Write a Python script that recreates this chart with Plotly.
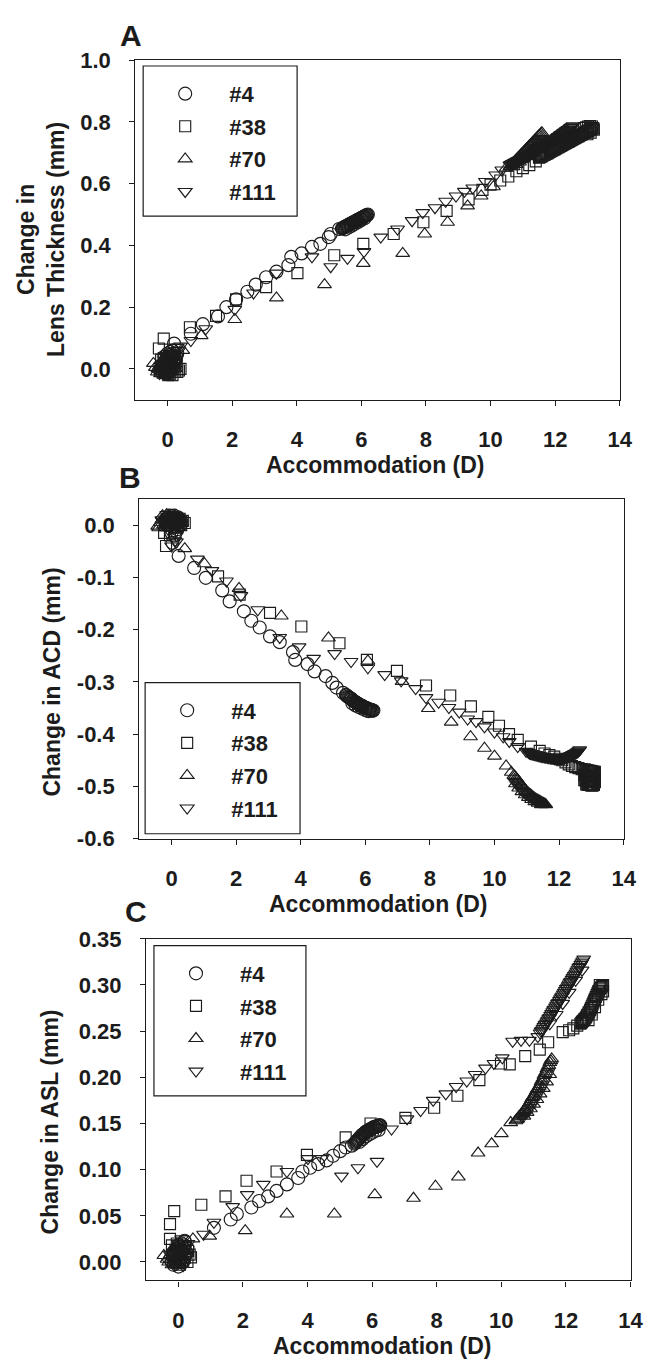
import plotly.graph_objects as go

W, H = 669, 1372

series_names = ["#4", "#38", "#70", "#111"]
series_symbols = ["circle-open", "square-open", "triangle-up-open", "triangle-down-open"]
series_sizes = [13, 11, 12, 12]

x_tick_vals = [0, 2, 4, 6, 8, 10, 12, 14]
x_tick_text = ["0", "2", "4", "6", "8", "10", "12", "14"]

# ================= Panel A: Change in Lens Thickness (mm) =================
a4_x = [-0.2, -0.15, -0.1, -0.05, 0.0, 0.05, 0.1, 0.15, 0.2, 0.25, -0.1, 0.0, 0.1, 0.2, 0.05, -0.05, 0.15, 0.3,
        -0.12, -0.08, -0.02, 0.03, 0.07, 0.12, 0.17, 0.22, -0.18, 0.27, 0.08, -0.03,
        0.2, 0.72, 1.09, 1.56, 1.82, 2.12, 2.47, 2.73, 3.05, 3.37, 3.74, 3.83, 4.15, 4.47, 4.73, 4.99, 5.05, 5.31,
        5.400, 5.425, 5.450, 5.475, 5.500, 5.525, 5.550, 5.575, 5.600, 5.625,
        5.650, 5.675, 5.700, 5.725, 5.750, 5.775, 5.800, 5.825, 5.850, 5.875,
        5.900, 5.925, 5.950, 5.975, 6.000, 6.025, 6.050, 6.075, 6.100, 6.125,
        6.150, 6.175, 6.200,
        5.5, 5.6, 5.7, 5.8, 5.9, 6.0, 6.1]
a4_y = [0.0, 0.01, -0.01, 0.02, 0.0, 0.03, 0.01, 0.04, 0.05, 0.03, 0.04, 0.05, -0.005, 0.02, -0.01, 0.03, 0.06, 0.05,
        0.015, 0.025, 0.035, 0.045, 0.015, 0.02, 0.025, 0.035, 0.005, 0.04, 0.055, -0.015,
        0.082, 0.114, 0.145, 0.17, 0.2, 0.225, 0.25, 0.273, 0.297, 0.315, 0.336, 0.363, 0.374, 0.395, 0.405,
        0.427, 0.437, 0.453,
        0.455, 0.456, 0.458, 0.459, 0.461, 0.462, 0.463, 0.465, 0.466, 0.468,
        0.469, 0.470, 0.472, 0.473, 0.475, 0.476, 0.477, 0.479, 0.480, 0.482,
        0.483, 0.484, 0.486, 0.487, 0.489, 0.490, 0.491, 0.493, 0.494, 0.496,
        0.497, 0.498, 0.500,
        0.452, 0.458, 0.464, 0.47, 0.476, 0.482, 0.488]

a38_x = [-0.27, -0.12, 0.4, 0.3, 0.2, -0.2, 0.1, 0.0, -0.1, 0.05, 0.15, -0.05, 0.25, 0.0, 0.1,
         -0.25, -0.18, -0.08, -0.02, 0.08, 0.18, 0.28, 0.35, 0.12, -0.12, 0.02, 0.22,
         0.69, 1.5, 2.12, 3.05, 4.02, 5.16, 6.06, 7.0, 7.92, 8.64, 9.32, 9.75, 10.0, 10.3, 10.55, 10.8, 11.0,
         11.2, 11.4,
         11.50, 11.53, 11.56, 11.59, 11.62, 11.65, 11.68, 11.71, 11.74, 11.77,
         11.80, 11.83, 11.86, 11.89, 11.92, 11.95, 11.98, 12.01, 12.04, 12.07,
         12.10, 12.13, 12.16, 12.19, 12.22, 12.25, 12.28, 12.31, 12.34, 12.37,
         12.40, 12.43, 12.46, 12.49, 12.52, 12.55, 12.58, 12.61, 12.64, 12.67,
         12.70, 12.73, 12.76, 12.79, 12.82, 12.85, 12.88, 12.91, 12.94, 12.97,
         13.00, 13.03, 13.06, 13.09, 13.12, 13.15, 13.18,
         12.9, 12.96, 13.02, 13.08, 13.14, 13.2, 13.0, 13.1]
a38_y = [0.066, 0.098, 0.0, -0.01, 0.01, 0.03, 0.0, 0.02, -0.01, 0.04, -0.02, 0.0, 0.02, -0.015, 0.03,
         0.0, 0.01, 0.02, 0.005, -0.015, 0.0, 0.01, -0.005, 0.025, 0.035, -0.02, -0.01,
         0.135, 0.172, 0.225, 0.265, 0.31, 0.368, 0.405, 0.437, 0.475, 0.512, 0.549, 0.58, 0.597, 0.61, 0.623,
         0.64, 0.65, 0.66, 0.672,
         0.684, 0.686, 0.687, 0.689, 0.691, 0.693, 0.694, 0.696, 0.698, 0.699,
         0.701, 0.703, 0.705, 0.706, 0.708, 0.710, 0.711, 0.713, 0.715, 0.717,
         0.718, 0.720, 0.722, 0.723, 0.725, 0.727, 0.729, 0.730, 0.732, 0.734,
         0.735, 0.737, 0.739, 0.741, 0.742, 0.744, 0.746, 0.747, 0.749, 0.751,
         0.753, 0.754, 0.756, 0.758, 0.759, 0.761, 0.763, 0.765, 0.766, 0.768,
         0.770, 0.771, 0.773, 0.775, 0.777, 0.778, 0.780,
         0.78, 0.782, 0.785, 0.786, 0.785, 0.775, 0.76, 0.765]

a70_x = [-0.44, -0.3, -0.2, -0.1, 0.0, 0.1, 0.05, -0.15, 0.2, 0.15, -0.05, 0.0,
         -0.38, -0.32, -0.25, -0.18, -0.12, -0.06, 0.02, 0.08, 0.12, -0.22, -0.08, 0.25,
         0.47, 1.04, 2.08, 3.37, 4.86, 6.06, 7.28, 7.96, 8.67, 9.29, 9.71, 10.09, 10.48,
         10.60, 10.63, 10.66, 10.69, 10.72, 10.75, 10.78, 10.81, 10.84, 10.87,
         10.90, 10.93, 10.96, 10.99, 11.02, 11.05, 11.08, 11.11, 11.14, 11.17,
         11.20, 11.23, 11.26, 11.29, 11.32, 11.35, 11.38, 11.41, 11.44, 11.47,
         11.50, 11.53, 11.56, 11.59,
         10.7, 10.8, 10.9, 11.0, 11.1, 11.2, 11.3, 11.4, 11.5]
a70_y = [0.018, 0.0, -0.01, 0.01, 0.03, 0.0, 0.05, 0.02, 0.01, 0.04, -0.015, 0.0,
         0.005, -0.01, 0.01, 0.0, -0.02, 0.02, 0.015, 0.025, -0.01, -0.015, 0.035, 0.0,
         0.06, 0.108, 0.16, 0.23, 0.273, 0.342, 0.374, 0.437, 0.475, 0.528, 0.56, 0.59, 0.65,
         0.655, 0.658, 0.662, 0.665, 0.668, 0.672, 0.675, 0.678, 0.682, 0.685,
         0.688, 0.692, 0.695, 0.698, 0.702, 0.705, 0.708, 0.712, 0.715, 0.718,
         0.722, 0.725, 0.728, 0.732, 0.735, 0.738, 0.742, 0.745, 0.748, 0.752,
         0.755, 0.758, 0.762, 0.765,
         0.655, 0.662, 0.67, 0.68, 0.69, 0.7, 0.71, 0.72, 0.73]

a111_x = [-0.2, -0.1, 0.0, 0.1, 0.2, 0.3, 0.05, -0.05, 0.15, 0.25, 0.0, -0.15,
          -0.25, -0.18, -0.12, -0.06, 0.02, 0.08, 0.12, 0.18, 0.22, 0.28, -0.02, 0.35,
          0.4, 0.72, 1.18, 2.08, 2.66, 3.37, 4.47, 5.05, 5.57, 6.08, 6.6, 7.12, 7.57, 7.9, 8.28, 8.61, 8.93,
          9.19, 9.45, 9.84, 10.16, 10.35,
          10.60, 10.63, 10.66, 10.69, 10.72, 10.75, 10.78, 10.81, 10.84, 10.87,
          10.90, 10.93, 10.96, 10.99, 11.02, 11.05, 11.08, 11.11, 11.14, 11.17,
          11.20, 11.23, 11.26, 11.29, 11.32, 11.35, 11.38, 11.41, 11.44, 11.47,
          11.50, 11.53, 11.56, 11.59, 11.62, 11.65, 11.68, 11.71, 11.74, 11.77,
          11.80, 11.83, 11.86, 11.89, 11.92, 11.95, 11.98, 12.01, 12.04, 12.07,
          12.10, 12.13, 12.16, 12.19, 12.22, 12.25, 12.28, 12.31, 12.34, 12.37,
          12.40, 12.43, 12.46, 12.49, 12.52, 12.55]
a111_y = [0.0, 0.02, -0.01, 0.03, 0.05, 0.07, 0.01, 0.04, 0.0, 0.02, 0.01, -0.01,
          -0.015, 0.01, 0.0, 0.025, 0.005, -0.015, 0.045, 0.03, 0.01, 0.04, 0.03, 0.06,
          0.074, 0.092, 0.13, 0.193, 0.246, 0.31, 0.363, 0.331, 0.358, 0.38, 0.427, 0.453, 0.48, 0.506, 0.522,
          0.543, 0.56, 0.575, 0.586, 0.607, 0.628, 0.644,
          0.660, 0.662, 0.664, 0.665, 0.667, 0.669, 0.670, 0.672, 0.674, 0.675,
          0.677, 0.679, 0.681, 0.682, 0.684, 0.686, 0.687, 0.689, 0.691, 0.692,
          0.694, 0.696, 0.698, 0.699, 0.701, 0.703, 0.705, 0.707, 0.709, 0.711,
          0.713, 0.715, 0.717, 0.718, 0.720, 0.722, 0.724, 0.726, 0.728, 0.730,
          0.732, 0.734, 0.736, 0.737, 0.739, 0.741, 0.743, 0.745, 0.747, 0.750,
          0.752, 0.754, 0.757, 0.759, 0.761, 0.764, 0.766, 0.768, 0.771, 0.773,
          0.775, 0.777, 0.780, 0.782, 0.784, 0.787]

a_ytick_vals = [0.0, 0.2, 0.4, 0.6, 0.8, 1.0]
a_ytick_text = ["0.0", "0.2", "0.4", "0.6", "0.8", "1.0"]

# ================= Panel B: Change in ACD (mm) =================
b4_x = [-0.2, -0.1, 0.0, 0.1, 0.2, 0.05, -0.05, 0.15, 0.25, 0.0, 0.1, -0.15, 0.2, 0.3,
        -0.12, -0.07, -0.02, 0.03, 0.08, 0.13, 0.18, 0.23, -0.17, 0.28,
        0.03, 0.22, 0.7, 1.06, 1.57, 1.8, 2.24, 2.47, 2.73, 3.05, 3.35, 3.76, 3.83, 4.21, 4.43, 4.77, 4.98,
        5.11, 5.31,
        5.400, 5.425, 5.450, 5.475, 5.500, 5.525, 5.550, 5.575, 5.600, 5.625,
        5.650, 5.675, 5.700, 5.725, 5.750, 5.775, 5.800, 5.825, 5.850, 5.875,
        5.900, 5.925, 5.950, 5.975, 6.000, 6.025, 6.050, 6.075, 6.100, 6.125,
        6.150, 6.175, 6.200, 6.225, 6.250,
        5.6, 5.7, 5.8, 5.9, 6.0, 6.1]
b4_y = [0.01, 0.015, 0.005, 0.012, 0.0, -0.005, 0.0, 0.01, 0.005, -0.015, -0.02, 0.0, 0.015, 0.008,
        0.008, 0.018, 0.012, 0.002, 0.018, 0.003, -0.008, 0.012, 0.005, 0.0,
        -0.034, -0.059, -0.082, -0.101, -0.125, -0.146, -0.165, -0.183, -0.196, -0.213, -0.224, -0.243, -0.258,
        -0.266, -0.28, -0.289, -0.302, -0.311, -0.321,
        -0.325, -0.326, -0.328, -0.329, -0.330, -0.331, -0.332, -0.333, -0.335, -0.336,
        -0.337, -0.338, -0.339, -0.340, -0.341, -0.342, -0.343, -0.344, -0.345, -0.346,
        -0.346, -0.347, -0.348, -0.349, -0.349, -0.350, -0.351, -0.351, -0.352, -0.353,
        -0.353, -0.354, -0.354, -0.355, -0.355,
        -0.341, -0.345, -0.348, -0.351, -0.354, -0.356]

b38_x = [-0.23, -0.17, 0.41, 0.0, -0.1, 0.1, 0.2, 0.3, -0.05, 0.15, 0.05, -0.15,
         -0.2, -0.12, -0.02, 0.08, 0.18, 0.25, 0.35, 0.12,
         1.44, 2.11, 3.05, 4.02, 5.2, 6.05, 6.98, 7.88, 8.63, 9.27, 9.81, 10.14, 10.45, 10.72, 11.13, 11.4,
         11.55, 11.7, 11.85, 12.0, 12.1, 12.2, 12.3, 12.4, 12.5, 12.6, 12.7,
         12.78, 12.81, 12.84, 12.87, 12.90, 12.93, 12.96, 12.99, 13.02, 13.05, 13.08, 13.11,
         12.78, 12.81, 12.84, 12.87, 12.90, 12.93, 12.96, 12.99, 13.02, 13.05, 13.08, 13.11,
         12.78, 12.81, 12.84, 12.87, 12.90, 12.93, 12.96, 12.99, 13.02, 13.05, 13.08, 13.11,
         12.84, 12.87, 12.90, 12.93, 12.96, 12.99, 13.02, 13.05, 13.08]
b38_y = [-0.015, -0.04, 0.004, 0.01, 0.005, 0.0, 0.01, 0.0, -0.02, 0.012, 0.015, 0.0,
         0.0, 0.012, 0.0, 0.008, 0.0, 0.012, 0.008, -0.005,
         -0.098, -0.133, -0.168, -0.194, -0.226, -0.258, -0.279, -0.307, -0.326, -0.347, -0.367, -0.384, -0.4,
         -0.411, -0.424, -0.432,
         -0.437, -0.44, -0.443, -0.447, -0.45, -0.454, -0.458, -0.461, -0.463, -0.465, -0.467,
         -0.468, -0.468, -0.469, -0.469, -0.470, -0.470, -0.470, -0.471, -0.471, -0.472, -0.472, -0.472,
         -0.478, -0.478, -0.479, -0.479, -0.480, -0.480, -0.480, -0.481, -0.481, -0.482, -0.482, -0.482,
         -0.488, -0.488, -0.489, -0.489, -0.490, -0.490, -0.490, -0.491, -0.491, -0.492, -0.492, -0.492,
         -0.496, -0.496, -0.497, -0.497, -0.497, -0.498, -0.498, -0.498, -0.497]

b70_x = [-0.4, -0.3, -0.2, -0.1, 0.0, 0.1, 0.2, -0.25, 0.05, -0.15, 0.0, 0.1,
         -0.35, -0.28, -0.18, -0.08, 0.02, 0.12, 0.18, -0.12,
         -0.43, 0.41, 1.02, 2.09, 3.4, 4.86, 6.08, 7.14, 7.95, 8.66, 9.26, 9.69, 10.0, 10.36, 10.52,
         10.60, 10.63, 10.66, 10.69, 10.72, 10.75, 10.78, 10.81, 10.84, 10.87,
         10.90, 10.93, 10.96, 10.99, 11.02, 11.05, 11.08, 11.11, 11.14, 11.17,
         11.20, 11.23, 11.26, 11.29, 11.32, 11.35, 11.38, 11.41, 11.44, 11.47,
         11.50, 11.53, 11.56, 11.59,
         10.65, 10.75, 10.85, 10.95, 11.05, 11.15, 11.25, 11.35, 11.45]
b70_y = [-0.005, 0.01, 0.015, 0.005, 0.012, 0.0, 0.01, 0.0, 0.015, 0.02, -0.005, 0.018,
         0.005, 0.018, 0.005, 0.018, 0.005, 0.012, 0.0, 0.012,
         -0.002, -0.045, -0.074, -0.121, -0.174, -0.216, -0.26, -0.299, -0.351, -0.377, -0.405, -0.427, -0.442,
         -0.461, -0.473,
         -0.479, -0.481, -0.484, -0.486, -0.488, -0.491, -0.493, -0.496, -0.498, -0.500,
         -0.503, -0.505, -0.508, -0.510, -0.512, -0.513, -0.515, -0.516, -0.518, -0.519,
         -0.521, -0.522, -0.524, -0.525, -0.526, -0.527, -0.528, -0.529, -0.530, -0.531,
         -0.532, -0.533, -0.534, -0.535,
         -0.495, -0.503, -0.51, -0.516, -0.521, -0.525, -0.529, -0.532, -0.535]

b111_x = [-0.3, -0.2, -0.1, 0.0, 0.1, 0.2, 0.3, 0.05, 0.15, 0.1, 0.0, -0.15, 0.25,
          -0.25, -0.15, -0.05, 0.05, 0.15, 0.22, 0.28, -0.08,
          0.15, 0.8, 1.25, 1.7, 2.15, 2.67, 3.35, 3.95, 4.4, 5.05, 5.56, 6.08, 6.6, 7.11, 7.56, 7.88, 8.27,
          8.59, 8.91, 9.17, 9.43, 9.69, 10.0, 10.27, 10.46, 10.72, 10.98,
          11.05, 11.08, 11.11, 11.14, 11.17, 11.20, 11.23, 11.26, 11.29, 11.32,
          11.35, 11.38, 11.41, 11.44, 11.47, 11.50, 11.53, 11.56, 11.59, 11.62,
          11.65, 11.68, 11.71, 11.74, 11.77, 11.80, 11.83, 11.86, 11.89, 11.92,
          11.95, 11.98, 12.01, 12.04, 12.07, 12.10, 12.13, 12.16, 12.19, 12.22,
          12.25, 12.28, 12.31, 12.34, 12.37, 12.40, 12.43, 12.46, 12.49, 12.52,
          12.55, 12.58, 12.61, 12.64]
b111_y = [0.01, 0.0, 0.015, 0.0, 0.01, 0.005, -0.005, 0.02, -0.02, -0.03, -0.04, 0.02, 0.012,
          0.005, 0.008, 0.008, 0.01, 0.015, 0.0, 0.01, -0.01,
          -0.032, -0.065, -0.087, -0.107, -0.135, -0.162, -0.215, -0.233, -0.255, -0.246, -0.261, -0.273,
          -0.286, -0.298, -0.313, -0.33, -0.339, -0.349, -0.358, -0.371, -0.376, -0.386, -0.396, -0.405,
          -0.414, -0.424, -0.433,
          -0.435, -0.436, -0.437, -0.437, -0.438, -0.438, -0.439, -0.439, -0.440, -0.440,
          -0.441, -0.441, -0.442, -0.442, -0.443, -0.443, -0.443, -0.444, -0.444, -0.444,
          -0.445, -0.445, -0.445, -0.446, -0.446, -0.446, -0.446, -0.447, -0.447, -0.447,
          -0.447, -0.447, -0.447, -0.447, -0.447, -0.446, -0.446, -0.446, -0.445, -0.445,
          -0.444, -0.443, -0.443, -0.442, -0.441, -0.440, -0.439, -0.438, -0.437, -0.436,
          -0.435, -0.434, -0.432, -0.430]

b_ytick_vals = [0.0, -0.1, -0.2, -0.3, -0.4, -0.5, -0.6]
b_ytick_text = ["0.0", "-0.1", "-0.2", "-0.3", "-0.4", "-0.5", "-0.6"]

# ================= Panel C: Change in ASL (mm) =================
c4_x = [-0.2, -0.1, 0.0, 0.05, 0.1, 0.15, 0.2, -0.05, 0.1, 0.25, 0.0, -0.15, 0.05, 0.2,
        -0.12, -0.07, -0.02, 0.03, 0.08, 0.13, 0.18, 0.23, -0.17, 0.28,
        0.19, 1.1, 1.62, 1.81, 2.26, 2.5, 2.78, 3.04, 3.36, 3.71, 3.84, 4.08, 4.33, 4.59, 4.79, 5.01, 5.18, 5.37,
        5.450, 5.475, 5.500, 5.525, 5.550, 5.575, 5.600, 5.625, 5.650, 5.675,
        5.700, 5.725, 5.750, 5.775, 5.800, 5.825, 5.850, 5.875, 5.900, 5.925,
        5.950, 5.975, 6.000, 6.025, 6.050, 6.075, 6.100, 6.125, 6.150, 6.175,
        6.200, 6.225, 6.250,
        5.6, 5.7, 5.8, 5.9, 6.0, 6.1, 6.2]
c4_y = [0.0, 0.005, -0.005, 0.01, 0.0, 0.015, 0.005, 0.012, 0.02, 0.01, 0.018, -0.003, 0.003, 0.022,
        0.008, 0.0, 0.015, 0.005, 0.012, 0.0, 0.018, 0.008, 0.01, 0.015,
        0.023, 0.037, 0.046, 0.052, 0.059, 0.066, 0.071, 0.077, 0.084, 0.091, 0.098, 0.102, 0.106, 0.11, 0.115,
        0.12, 0.124, 0.126,
        0.128, 0.129, 0.130, 0.131, 0.132, 0.133, 0.134, 0.135, 0.136, 0.137,
        0.138, 0.138, 0.139, 0.140, 0.141, 0.141, 0.142, 0.142, 0.143, 0.143,
        0.144, 0.144, 0.145, 0.145, 0.146, 0.146, 0.146, 0.147, 0.147, 0.147,
        0.148, 0.148, 0.148,
        0.13, 0.133, 0.136, 0.138, 0.14, 0.142, 0.143]

c38_x = [-0.26, -0.13, -0.26, 0.39, 0.0, -0.1, 0.1, 0.2, 0.3, -0.2, 0.05, 0.15, -0.05,
         -0.18, -0.08, 0.02, 0.12, 0.22, 0.28, 0.35, -0.12,
         0.71, 1.46, 2.11, 3.04, 3.98, 5.18, 5.95, 7.03, 7.92, 8.64, 9.32, 9.99, 10.26, 10.74, 11.19, 11.45,
         11.9, 12.1, 12.23, 12.35,
         12.450, 12.475, 12.500, 12.525, 12.550, 12.575, 12.600, 12.625, 12.650, 12.675,
         12.700, 12.725, 12.750, 12.775, 12.800, 12.825, 12.850, 12.875, 12.900, 12.925,
         12.950, 12.975, 13.000, 13.025, 13.050, 13.075, 13.100, 13.125, 13.150,
         12.7, 12.8, 12.9, 13.0, 13.1, 13.15, 13.05]
c38_y = [0.041, 0.055, 0.025, 0.005, 0.01, 0.0, 0.015, 0.005, 0.012, 0.018, -0.003, 0.0, 0.02,
         0.005, 0.012, 0.0, 0.008, 0.015, 0.0, 0.008, 0.01,
         0.062, 0.071, 0.088, 0.098, 0.116, 0.135, 0.15, 0.156, 0.167, 0.18, 0.197, 0.215, 0.214, 0.223,
         0.23, 0.238, 0.249, 0.251, 0.253, 0.256,
         0.258, 0.259, 0.260, 0.261, 0.262, 0.263, 0.264, 0.265, 0.267, 0.268,
         0.270, 0.271, 0.273, 0.275, 0.277, 0.279, 0.281, 0.283, 0.285, 0.287,
         0.289, 0.291, 0.293, 0.294, 0.296, 0.297, 0.298, 0.299, 0.300,
         0.262, 0.268, 0.276, 0.284, 0.29, 0.293, 0.3]

c70_x = [-0.45, -0.3, -0.2, -0.1, 0.0, 0.1, 0.2, -0.15, 0.05, 0.0, -0.05,
         -0.35, -0.25, -0.18, -0.08, 0.02, 0.08, 0.15, -0.12,
         0.45, 0.97, 2.07, 3.36, 4.83, 6.08, 7.28, 7.96, 8.67, 9.28, 9.7, 10.0, 10.29,
         10.45, 10.48, 10.51, 10.54, 10.57, 10.60, 10.63, 10.66, 10.69, 10.72,
         10.75, 10.78, 10.81, 10.84, 10.87, 10.90, 10.93, 10.96, 10.99, 11.02,
         11.05, 11.08, 11.11, 11.14, 11.17, 11.20, 11.23, 11.26, 11.29, 11.32,
         11.35, 11.38, 11.41, 11.44, 11.47, 11.50, 11.53, 11.56,
         10.7, 10.8, 10.9, 11.0, 11.1, 11.2, 11.3, 11.4, 11.5]
c70_y = [0.007, 0.0, -0.003, 0.005, 0.01, 0.0, 0.012, 0.015, 0.02, -0.004, 0.018,
         0.003, 0.008, 0.012, 0.0, 0.005, 0.015, 0.005, -0.002,
         0.025, 0.028, 0.034, 0.052, 0.052, 0.073, 0.069, 0.082, 0.092, 0.118, 0.128, 0.139, 0.151,
         0.153, 0.154, 0.155, 0.157, 0.158, 0.159, 0.160, 0.161, 0.163, 0.164,
         0.165, 0.167, 0.169, 0.170, 0.172, 0.174, 0.176, 0.178, 0.179, 0.181,
         0.183, 0.185, 0.187, 0.188, 0.190, 0.192, 0.195, 0.197, 0.199, 0.202,
         0.204, 0.206, 0.209, 0.211, 0.213, 0.216, 0.218, 0.220,
         0.158, 0.162, 0.166, 0.171, 0.176, 0.182, 0.188, 0.195, 0.203]

c111_x = [-0.3, -0.2, -0.1, 0.0, 0.1, 0.2, 0.3, 0.05, -0.05, 0.15, 0.0, 0.1,
          -0.25, -0.15, -0.05, 0.02, 0.08, 0.15, 0.25, -0.12,
          0.78, 1.1, 1.68, 2.13, 2.63, 3.36, 4.01, 4.44, 5.05, 5.56, 6.15, 6.6, 7.08, 7.5, 7.89, 8.28, 8.6,
          8.93, 9.19, 9.51, 9.77, 10.03, 10.35, 10.61, 10.87, 11.13,
          11.20, 11.23, 11.26, 11.29, 11.32, 11.35, 11.38, 11.41, 11.44, 11.47,
          11.50, 11.53, 11.56, 11.59, 11.62, 11.65, 11.68, 11.71, 11.74, 11.77,
          11.80, 11.83, 11.86, 11.89, 11.92, 11.95, 11.98, 12.01, 12.04, 12.07,
          12.10, 12.13, 12.16, 12.19, 12.22, 12.25, 12.28, 12.31, 12.34, 12.37,
          12.40, 12.43, 12.46, 12.49, 12.52, 12.55,
          11.5, 11.7, 11.9, 12.1, 12.3, 12.5]
c111_y = [0.0, 0.005, -0.003, 0.01, 0.0, 0.015, 0.02, 0.008, 0.012, -0.004, 0.02, 0.025,
          0.008, 0.0, 0.015, 0.018, 0.005, 0.01, 0.008, 0.003,
          0.03, 0.043, 0.06, 0.073, 0.084, 0.098, 0.112, 0.112, 0.093, 0.102, 0.109, 0.144, 0.155, 0.164,
          0.175, 0.182, 0.19, 0.196, 0.203, 0.21, 0.215, 0.221, 0.239, 0.24, 0.24, 0.244,
          0.248, 0.250, 0.251, 0.253, 0.255, 0.257, 0.258, 0.260, 0.262, 0.264,
          0.265, 0.267, 0.269, 0.271, 0.273, 0.274, 0.276, 0.278, 0.280, 0.281,
          0.283, 0.285, 0.287, 0.288, 0.290, 0.292, 0.294, 0.296, 0.297, 0.299,
          0.301, 0.303, 0.304, 0.306, 0.308, 0.310, 0.311, 0.313, 0.315, 0.317,
          0.319, 0.320, 0.322, 0.324, 0.326, 0.328,
          0.258, 0.268, 0.28, 0.292, 0.305, 0.316]

c_ytick_vals = [0.0, 0.05, 0.10, 0.15, 0.20, 0.25, 0.30, 0.35]
c_ytick_text = ["0.00", "0.05", "0.10", "0.15", "0.20", "0.25", "0.30", "0.35"]

panels = [
    dict(key="A", xs=[a4_x, a38_x, a70_x, a111_x], ys=[a4_y, a38_y, a70_y, a111_y],
         yr=[-0.1, 1.0], yt=(a_ytick_vals, a_ytick_text),
         box=(138, 632, 49, 395), leg=(146, 303, 55, 208),
         ytitle="Change in<br>Lens Thickness (mm)", ytx=42, yty=232, xtx=383, xty=461,
         letter=(134, 24)),
    dict(key="B", xs=[b4_x, b38_x, b70_x, b111_x], ys=[b4_y, b38_y, b70_y, b111_y],
         yr=[-0.6, 0.05], yt=(b_ytick_vals, b_ytick_text),
         box=(142, 636, 496, 842), leg=(148, 306, 683, 837),
         ytitle="Change in ACD (mm)", ytx=53, yty=682, xtx=386, xty=909,
         letter=(133, 474)),
    dict(key="C", xs=[c4_x, c38_x, c70_x, c111_x], ys=[c4_y, c38_y, c70_y, c111_y],
         yr=[-0.02, 0.35], yt=(c_ytick_vals, c_ytick_text),
         box=(149, 643, 944, 1292), leg=(157, 312, 951, 1104),
         ytitle="Change in ASL (mm)", ytx=51, yty=1131, xtx=390, xty=1359,
         letter=(139, 916)),
]

for p in panels:
    for xs_, ys_ in zip(p["xs"], p["ys"]):
        assert len(xs_) == len(ys_), (p["key"], len(xs_), len(ys_))

fig = go.Figure()
FONT = "Liberation Sans, Arial, sans-serif"
INK = "#1c1c1c"
shapes = []
annotations = []

for i, p in enumerate(panels):
    sfx = "" if i == 0 else str(i + 1)
    xa, ya = "x" + sfx, "y" + sfx
    legname = "legend" + sfx
    for j in range(4):
        fig.add_trace(go.Scatter(
            x=p["xs"][j], y=p["ys"][j], mode="markers", name=series_names[j],
            xaxis=xa, yaxis=ya, legend=legname, legendgroup=p["key"] + series_names[j],
            marker=dict(symbol=series_symbols[j], size=series_sizes[j], color=INK,
                        line=dict(width=1.15, color=INK)),
            cliponaxis=False,
        ))
    x0, x1, y0, y1 = p["box"]
    axis_common = dict(showline=True, linecolor=INK, linewidth=1.2, mirror=True,
                       ticks="outside", ticklen=5, tickwidth=1.2, tickcolor=INK,
                       showgrid=False, zeroline=False,
                       tickfont=dict(family=FONT, size=22, color=INK, weight="bold"))
    fig.update_layout(**{
        "xaxis" + sfx: dict(domain=[x0 / W, x1 / W], range=[-1, 14], anchor=ya,
                            tickvals=x_tick_vals, ticktext=x_tick_text,
                            ticklabelstandoff=15, **axis_common),
        "yaxis" + sfx: dict(domain=[1 - y1 / H, 1 - y0 / H], range=p["yr"], anchor=xa,
                            tickvals=p["yt"][0], ticktext=p["yt"][1],
                            ticklabelstandoff=14, **axis_common),
        legname: dict(x=(p["leg"][0] - 2) / W, y=1 - (p["leg"][2] + 7) / H,
                      xanchor="left", yanchor="top", bgcolor="rgba(0,0,0,0)",
                      borderwidth=0, itemwidth=78, tracegroupgap=1,
                      font=dict(family=FONT, size=22, color=INK, weight="bold")),
    })
    lx0, lx1, ly0, ly1 = p["leg"]
    shapes.append(dict(type="rect", xref="paper", yref="paper",
                       x0=lx0 / W, x1=lx1 / W, y0=1 - ly1 / H, y1=1 - ly0 / H,
                       line=dict(color=INK, width=1.2)))
    annotations.append(dict(text=p["ytitle"], xref="paper", yref="paper",
                            x=p["ytx"] / W, y=1 - p["yty"] / H, showarrow=False,
                            textangle=-90, xanchor="center", yanchor="middle",
                            font=dict(family=FONT, size=23, color=INK, weight="bold")))
    annotations.append(dict(text="Accommodation (D)", xref="paper", yref="paper",
                            x=p["xtx"] / W, y=1 - p["xty"] / H, showarrow=False,
                            xanchor="center", yanchor="middle",
                            font=dict(family=FONT, size=23, color=INK, weight="bold")))
    annotations.append(dict(text=p["key"], xref="paper", yref="paper",
                            x=p["letter"][0] / W, y=1 - p["letter"][1] / H, showarrow=False,
                            xanchor="center", yanchor="middle",
                            font=dict(family=FONT, size=30, color=INK, weight="bold")))

fig.update_layout(width=W, height=H, autosize=False,
                  margin=dict(l=0, r=0, t=0, b=0),
                  paper_bgcolor="white", plot_bgcolor="white",
                  font=dict(family=FONT, size=22, color=INK, weight="bold"),
                  showlegend=True, shapes=shapes, annotations=annotations)

fig.write_html("out.html")
